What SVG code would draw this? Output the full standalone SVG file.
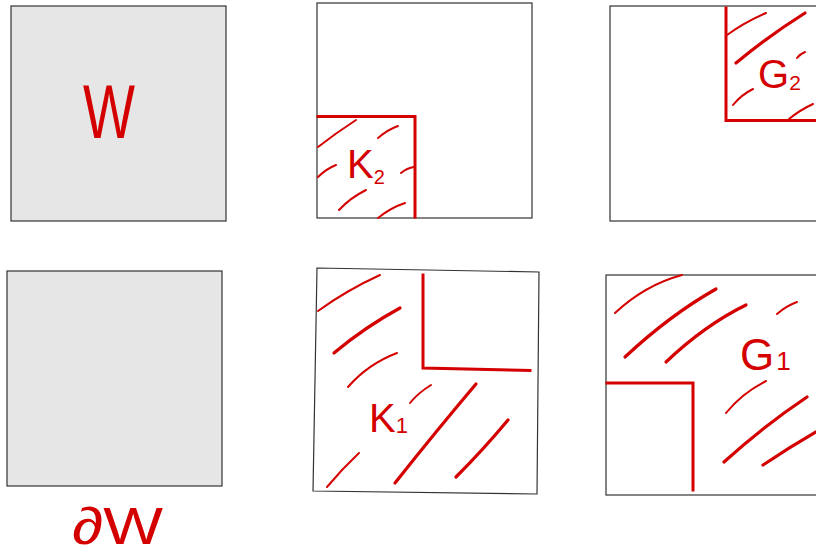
<svg xmlns="http://www.w3.org/2000/svg" width="816" height="557" viewBox="0 0 816 557">
<style>
.box{stroke:#333;stroke-width:1.2;}
.gray{fill:#e6e6e6;}
.white{fill:#ffffff;}
.edge{fill:none;stroke:#d40000;stroke-width:3;stroke-linecap:square;}
.h{fill:none;stroke:#d40000;stroke-width:2;stroke-linecap:round;}
.hb{fill:none;stroke:#d40000;stroke-width:3.2;stroke-linecap:round;}
.lbl{fill:#d40000;font-family:"Liberation Sans",Arial,sans-serif;}
</style>
<rect width="816" height="557" fill="#ffffff"/>
<g id="panel-W">
<rect class="box gray" x="11" y="6" width="215" height="215"/>
<text class="lbl" x="83" y="138" font-size="76" textLength="52" lengthAdjust="spacingAndGlyphs">W</text>
</g>
<g id="panel-K2">
<rect class="box white" x="317" y="3" width="215" height="215"/>
<path class="edge" d="M318 116.5 H415 V217"/>
<path class="h" d="M318 147 Q336 133 356 120"/>
<path class="h" d="M378 138 Q387 130 398 126"/>
<path class="h" d="M318 177 Q326 169 336 165"/>
<path class="h" d="M401 173 Q407 168 414 167"/>
<path class="h" d="M339 210 Q350 198 366 190"/>
<path class="h" d="M378 218 Q390 208 405 203"/>
<text class="lbl" x="347" y="178" font-size="40">K<tspan dy="6" font-size="20">2</tspan></text>
</g>
<g id="panel-G2">
<rect class="box white" x="610" y="6" width="220" height="215"/>
<path class="edge" d="M726 8 V120.5 H816"/>
<path class="h" d="M727 35 Q745 22 766 13"/>
<path class="hb" d="M736 63 Q770 35 805 13"/>
<path class="h" d="M797 58 Q800 54 805 52"/>
<path class="h" d="M733 105 Q741 95 753 89"/>
<path class="h" d="M789 119 Q800 110 813 104"/>
<text class="lbl" x="758" y="88" font-size="40">G<tspan dy="2" font-size="21">2</tspan></text>
</g>
<g id="panel-dW">
<rect class="box gray" x="7" y="271" width="215" height="215"/>
<text class="lbl" x="72" y="544" font-size="52" textLength="91" lengthAdjust="spacingAndGlyphs">∂W</text>
</g>
<g id="panel-K1">
<path class="box white" d="M317 268 L539 272 L537 494 L313 491 Z"/>
<path class="edge" d="M423 275 V368 L530 370.5"/>
<path class="h" d="M318 311 Q347 290 380 275"/>
<path class="hb" d="M334 353 Q365 327 400 308"/>
<path class="h" d="M348 387 Q368 364 397 353"/>
<path class="h" d="M410 403 Q418 393 431 385"/>
<path class="hb" d="M395 483 Q437 430 476 384"/>
<path class="hb" d="M456 477 Q483 450 508 420"/>
<path class="h" d="M327 487 Q342 469 359 453"/>
<text class="lbl" x="369" y="432" font-size="40">K<tspan dy="1" font-size="22">1</tspan></text>
</g>
<g id="panel-G1">
<rect class="box white" x="606" y="275" width="220" height="220"/>
<path class="edge" d="M607 383 H693 V490"/>
<path class="h" d="M615 313 Q645 285 682 275"/>
<path class="hb" d="M625 357 Q670 315 716 289"/>
<path class="hb" d="M666 362 Q705 325 746 305"/>
<path class="h" d="M777 314 Q786 306 797 302"/>
<path class="h" d="M726 413 Q742 393 766 381"/>
<path class="hb" d="M724 462 Q765 425 807 397"/>
<path class="hb" d="M763 465 Q790 447 816 432"/>
<text class="lbl" x="740" y="370" font-size="44">G<tspan dx="2" font-size="26">1</tspan></text>
</g>
</svg>
